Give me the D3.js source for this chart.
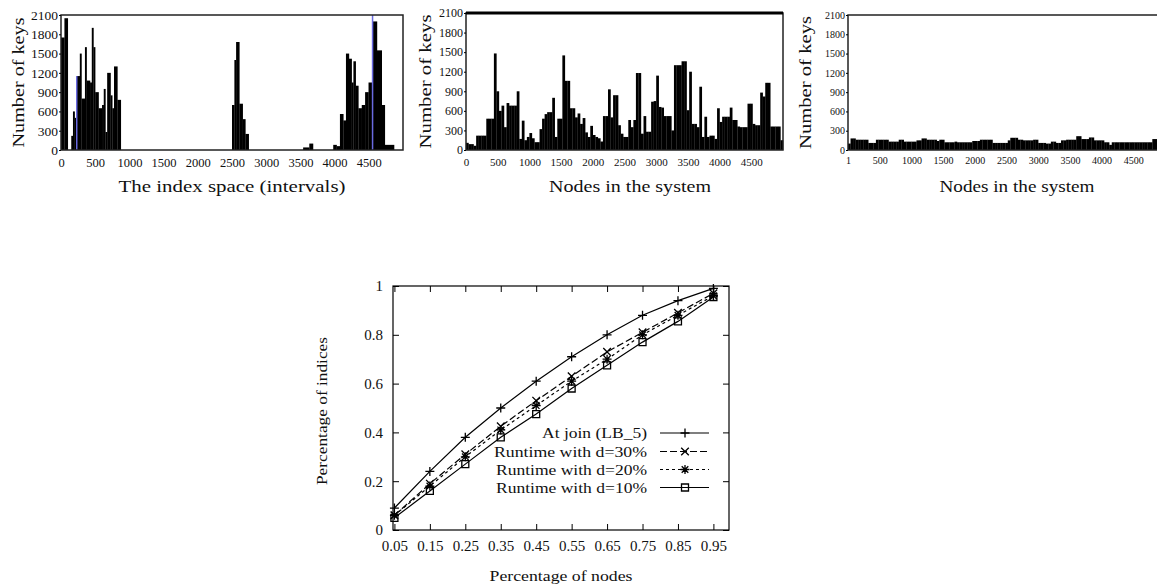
<!DOCTYPE html>
<html><head><meta charset="utf-8">
<script src="https://cdn.jsdelivr.net/npm/d3@7"></script>
<style>body{margin:0;background:#fff}</style>
</head><body>
<script>
// ---------- Panel 1: keys per interval of the index space (variable bins) ----------
const p1Edges = [0,50,100,150,175,200,230,275,300,350,375,425,450,475,500,550,600,625,650,675,
  725,750,775,825,875,2500,2535,2560,2608,2657,2696,2745,3540,3630,3685,3980,4030,4078,4128,4166,
  4210,4250,4275,4309,4348,4397,4446,4496,4555,4620,4690,4735,4870,5000];
const p1Keys = [1750,2050,0,220,600,500,1150,1500,800,1600,1080,1050,1900,1600,900,650,700,950,280,1200,
  850,650,1300,780,0,700,1400,1680,720,480,250,0,40,100,0,80,60,560,460,1500,
  1420,1050,1380,1000,650,700,900,1050,2000,1550,700,80,0];
const p1BlueX = [230, 4555];
const p1BlueTop = [1150, 2100];
const p1XTicks = [0,500,1000,1500,2000,2500,3000,3500,4000,4500];

// ---------- Panel 2: keys per node (bins of 40 nodes) ----------
const p2Keys = [110,90,90,65,220,220,220,220,480,480,
  480,1480,900,600,680,350,720,680,680,680,
  900,170,450,150,200,260,180,120,120,320,
  480,550,580,580,800,200,480,480,1450,1060,
  1060,640,640,500,560,400,490,270,200,370,
  230,200,180,130,520,520,930,500,840,840,
  380,250,200,200,460,350,460,1180,1180,250,
  520,280,280,740,750,1140,660,650,520,520,
  520,300,1300,1300,1300,1360,1360,610,1200,400,
  400,350,970,200,510,200,220,220,170,640,
  430,510,510,510,650,460,460,360,350,350,
  350,710,710,400,380,380,880,820,1030,1030,
  360,360,360,360,150];
const p2XTicks = [0,500,1000,1500,2000,2500,3000,3500,4000,4500];

// ---------- Panel 3: keys per node after balancing (bins of 40 nodes) ----------
const p3Keys = [100,180,180,160,160,160,160,160,110,110,
  110,160,160,160,160,160,130,130,130,130,
  160,160,130,130,130,130,130,150,150,180,
  180,160,160,160,160,140,160,160,120,120,
  120,120,130,120,120,120,120,120,120,140,
  140,140,160,160,160,160,160,110,110,110,
  110,110,110,150,190,190,190,160,160,150,
  150,150,150,160,160,110,110,110,100,100,
  130,130,110,110,150,150,160,160,160,160,
  215,215,170,170,170,195,195,150,150,150,
  150,120,120,80,120,120,120,120,120,120,
  120,120,120,120,120,120,120,120,120,120,
  170,170,170,170,170];
const p3XTicks = [1,500,1000,1500,2000,2500,3000,3500,4000,4500];
const keyTicks = [0,300,600,900,1200,1500,1800,2100];
const binWidth = 40;

// ---------- Bottom chart ----------
const nodesPct = [0.05,0.15,0.25,0.35,0.45,0.55,0.65,0.75,0.85,0.95];
const atJoin = [0.09,0.24,0.38,0.50,0.61,0.71,0.80,0.88,0.94,0.99];
const rt30 = [0.06,0.19,0.31,0.425,0.53,0.63,0.73,0.81,0.89,0.97];
const rt20 = [0.06,0.18,0.30,0.41,0.51,0.61,0.70,0.80,0.88,0.96];
const rt10 = [0.05,0.16,0.27,0.38,0.475,0.58,0.675,0.77,0.855,0.955];
const seriesNames = ["At join (LB_5)","Runtime with d=30%","Runtime with d=20%","Runtime with d=10%"];
const yPctTicks = [0,0.2,0.4,0.6,0.8,1];

const serif = "'Liberation Serif','Times New Roman',serif";
const svg = d3.select("body").append("svg").attr("width",1157).attr("height",587)
  .style("background","#fff");

function label(g, x, y, str, size, len, rotate, anchor) {
  const t = g.append("text").attr("font-family", serif).attr("font-size", size)
    .attr("fill", "#111").attr("text-anchor", anchor || "middle").text(str);
  if (rotate) t.attr("transform", `translate(${x},${y}) rotate(-90)`).attr("dy", "0.35em");
  else t.attr("x", x).attr("y", y);
  if (len) t.attr("textLength", len).attr("lengthAdjust", "spacingAndGlyphs");
  return t;
}

function histPanel(c) {
  const g = svg.append("g");
  const x = d3.scaleLinear().domain([0, 5000]).range([c.left, c.right]);
  const y = d3.scaleLinear().domain([0, 2100]).range([c.bottom, c.top]);
  g.selectAll("rect.bar").data(c.bars).join("rect").attr("class","bar")
    .attr("x", d => x(d.x0)).attr("width", d => Math.max(0, x(d.x1) - x(d.x0)) + 0.2)
    .attr("y", d => y(d.v)).attr("height", d => y(0) - y(d.v)).attr("fill", "#000");
  if (c.blue) {
    g.selectAll("line.blue").data(c.blue).join("line").attr("class","blue")
      .attr("x1", d => x(d.x)).attr("x2", d => x(d.x))
      .attr("y1", y(0)).attr("y2", d => y(d.top))
      .attr("stroke", "#6a6ae0").attr("stroke-width", 1.5);
  }
  // frame
  g.append("rect").attr("x", c.left).attr("y", c.top).attr("width", c.right - c.left)
    .attr("height", c.bottom - c.top).attr("fill", "none").attr("stroke", "#222").attr("stroke-width", 1.5);
  if (c.thickTop) g.append("line").attr("x1", c.left).attr("x2", c.right).attr("y1", c.top).attr("y2", c.top)
    .attr("stroke", "#000").attr("stroke-width", 3);
  // y axis
  const ya = g.append("g").attr("transform", `translate(${c.left},0)`)
    .call(d3.axisLeft(y).tickValues(keyTicks).tickSize(2).tickPadding(1).tickFormat(d3.format("d")));
  ya.select(".domain").remove();
  ya.selectAll("text").attr("font-family", serif).attr("font-size", c.yTickSize).attr("fill", "#111");
  // x axis
  const xa = g.append("g").attr("transform", `translate(0,${c.bottom})`)
    .call(d3.axisBottom(x).tickValues(c.xTicks).tickSize(0).tickPadding(c.xPad).tickFormat(d3.format("d")));
  xa.select(".domain").remove();
  xa.selectAll("text").attr("font-family", serif).attr("font-size", c.tickSize).attr("fill", "#111");
  label(g, c.yTitleX, (c.top + c.bottom) / 2, "Number of keys", 17, c.yTitleLen, true);
  label(g, c.xTitleX, 192, c.xTitle, 17, c.xTitleLen, false);
}

const p1Bars = p1Keys.map((v, i) => ({x0: p1Edges[i], x1: p1Edges[i + 1], v}));
const p2Bars = p2Keys.map((v, i) => ({x0: i * binWidth, x1: (i + 1) * binWidth, v}));
const p3Bars = p3Keys.map((v, i) => ({x0: i * binWidth, x1: (i + 1) * binWidth, v}));

histPanel({left: 61, right: 403, top: 15, bottom: 150, bars: p1Bars,
  blue: p1BlueX.map((x, i) => ({x, top: p1BlueTop[i]})),
  xTicks: p1XTicks, tickSize: 12.5, yTickSize: 13.5, xPad: 8, yTitleX: 18, yTitleLen: 130,
  xTitle: "The index space (intervals)", xTitleX: 232, xTitleLen: 227});
histPanel({left: 466, right: 783, top: 13, bottom: 150, bars: p2Bars, thickTop: true,
  xTicks: p2XTicks, tickSize: 11, yTickSize: 12, xPad: 8, yTitleX: 425, yTitleLen: 134,
  xTitle: "Nodes in the system", xTitleX: 630, xTitleLen: 162});
histPanel({left: 848, right: 1165, top: 15, bottom: 150, bars: p3Bars,
  xTicks: p3XTicks, tickSize: 10, yTickSize: 10, xPad: 7, yTitleX: 805, yTitleLen: 133,
  xTitle: "Nodes in the system", xTitleX: 1017, xTitleLen: 155});

// ---------- Bottom line chart ----------
(function () {
  const L = 393, R = 729, T = 286, B = 530;
  const g = svg.append("g");
  const x = d3.scaleLinear().domain([0.046, 0.994]).range([L, R]);
  const y = d3.scaleLinear().domain([0, 1]).range([B, T]);
  const styleAxis = (a) => {
    a.select(".domain").remove();
    a.selectAll("line").attr("stroke", "#000");
    a.selectAll("text").attr("font-family", serif).attr("font-size", 15).attr("fill", "#111");
  };
  styleAxis(g.append("g").attr("transform", `translate(0,${B})`)
    .call(d3.axisBottom(x).tickValues(nodesPct).tickSize(-6).tickPadding(10).tickFormat(d3.format(".2f"))));
  styleAxis(g.append("g").attr("transform", `translate(0,${T})`)
    .call(d3.axisTop(x).tickValues(nodesPct).tickSize(-6).tickFormat("")));
  styleAxis(g.append("g").attr("transform", `translate(${L},0)`)
    .call(d3.axisLeft(y).tickValues(yPctTicks).tickSize(-6).tickPadding(10).tickFormat(d3.format("~g"))));
  styleAxis(g.append("g").attr("transform", `translate(${R},0)`)
    .call(d3.axisRight(y).tickValues(yPctTicks).tickSize(-6).tickFormat("")));
  g.append("rect").attr("x", L).attr("y", T).attr("width", R - L).attr("height", B - T)
    .attr("fill", "none").attr("stroke", "#000").attr("stroke-width", 1.2);

  const markers = {
    plus: "M-4.5,0H4.5M0,-4.5V4.5",
    cross: "M-3.8,-3.8L3.8,3.8M-3.8,3.8L3.8,-3.8",
    star: "M-4.5,0H4.5M0,-4.5V4.5M-3.3,-3.3L3.3,3.3M-3.3,3.3L3.3,-3.3",
    square: "M-3.5,-3.5H3.5V3.5H-3.5Z"
  };
  const series = [
    {vals: atJoin, dash: null, m: "plus"},
    {vals: rt30, dash: "7,3", m: "cross"},
    {vals: rt20, dash: "3,3", m: "star"},
    {vals: rt10, dash: null, m: "square"}
  ];
  const line = d3.line().x(d => x(d[0])).y(d => y(d[1])).curve(d3.curveLinear);
  series.forEach(s => {
    const pts = nodesPct.map((p, i) => [p, s.vals[i]]);
    g.append("path").attr("d", line(pts)).attr("fill", "none").attr("stroke", "#000")
      .attr("stroke-width", 1.2).attr("stroke-dasharray", s.dash);
    g.selectAll(null).data(pts).join("path")
      .attr("transform", d => `translate(${x(d[0])},${y(d[1])})`).attr("d", markers[s.m])
      .attr("fill", "none").attr("stroke", "#000").attr("stroke-width", 1.3);
  });

  // legend
  const rowY = [433, 451.5, 469.5, 487.5];
  const textLen = [105, 153, 151, 151];
  series.forEach((s, i) => {
    label(g, 647, rowY[i] + 5, seriesNames[i], 15, textLen[i], false, "end");
    g.append("line").attr("x1", 660).attr("x2", 709).attr("y1", rowY[i]).attr("y2", rowY[i])
      .attr("stroke", "#000").attr("stroke-width", 1.2).attr("stroke-dasharray", s.dash);
    g.append("path").attr("transform", `translate(685,${rowY[i]})`).attr("d", markers[s.m])
      .attr("fill", "none").attr("stroke", "#000").attr("stroke-width", 1.3);
  });

  label(g, 561, 581, "Percentage of nodes", 15, 143, false);
  label(g, 322, 411, "Percentage of indices", 15, 148, true);
})();
</script>
</body></html>
